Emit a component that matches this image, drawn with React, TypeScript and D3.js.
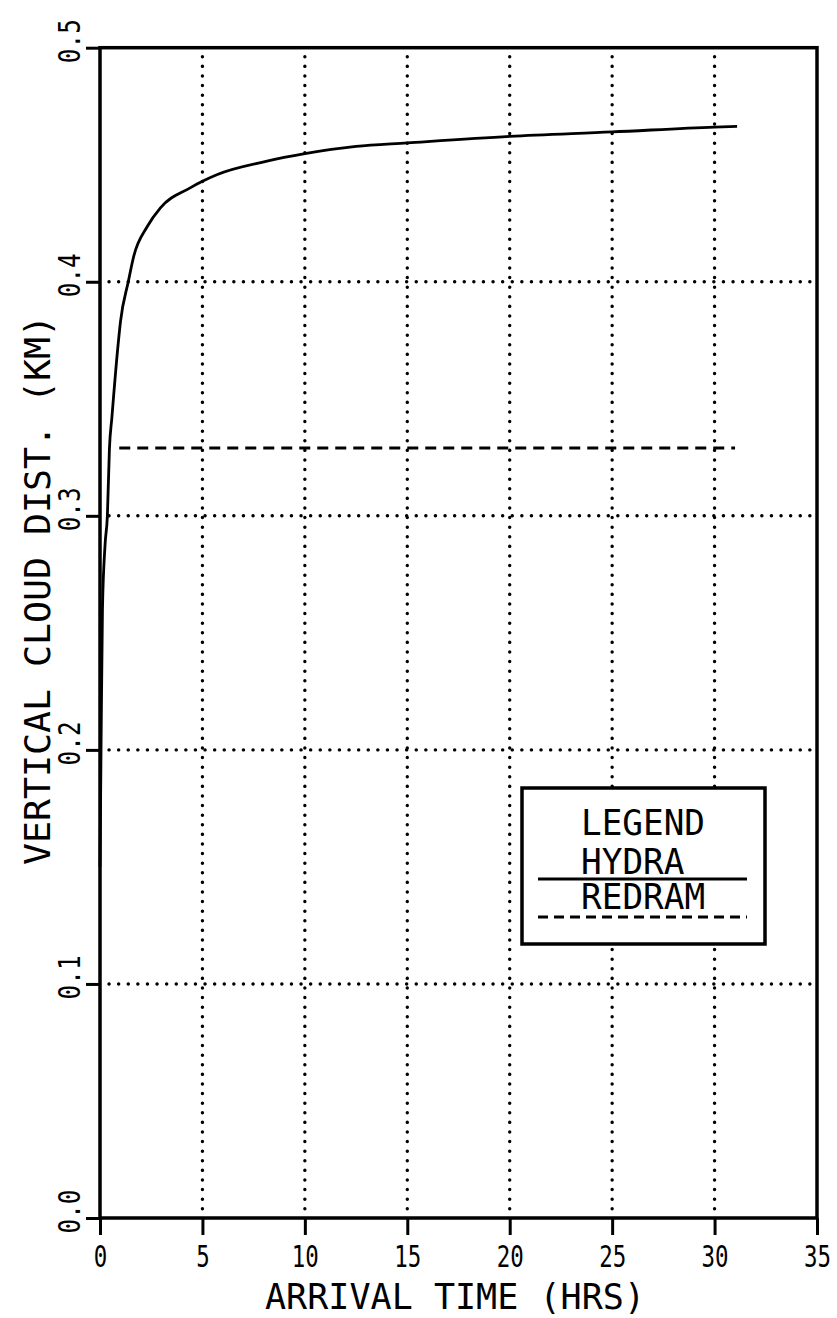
import React, { useEffect, useRef } from 'react';
import * as d3 from 'd3';

// HYDRA curve
const hydraTime = [0, 0.05, 0.12, 0.25, 0.36, 0.46, 0.58, 0.86, 1.0, 1.38, 1.65, 2.3, 2.95, 4.38, 5.0, 5.7, 8.1, 10, 12.5, 15, 20, 25, 30, 31.1];
const hydraDist = [0.15, 0.2, 0.26, 0.288, 0.3, 0.3286, 0.342, 0.371, 0.383, 0.4, 0.411, 0.4235, 0.4316, 0.44, 0.4429, 0.4457, 0.4514, 0.4547, 0.4578, 0.4593, 0.4621, 0.464, 0.4661, 0.4664];

// REDRAM is flat
const redramTime = [0.94, 31.0];
const redramDist = [0.329, 0.329];

const xTicks = [0, 5, 10, 15, 20, 25, 30, 35];
const yTicks = [0.0, 0.1, 0.2, 0.3, 0.4, 0.5];
const legendLabels = ['HYDRA', 'REDRAM'];

const FONT = '"DejaVu Sans Mono", monospace';

export default function App() {
  const ref = useRef<SVGSVGElement>(null);

  useEffect(() => {
    const svg = d3.select(ref.current);
    svg.selectAll('*').remove();

    const left = 100, right = 817, top = 47.7, bottom = 1218;

    const x = d3.scaleLinear().domain([0, 35]).range([left, right]);
    const y = d3.scaleLinear().domain([0, 0.5]).range([bottom, top]);

    // dotted grid
    const grid = svg.append('g')
      .attr('stroke', '#000')
      .attr('stroke-width', 3.4)
      .attr('stroke-linecap', 'round')
      .attr('stroke-dasharray', '0.1 9.5');
    grid.selectAll('line.h')
      .data(yTicks.filter(d => d > 0 && d < 0.5))
      .join('line')
      .attr('x1', left + 9).attr('x2', right)
      .attr('y1', d => y(d)).attr('y2', d => y(d));
    grid.selectAll('line.v')
      .data(xTicks.filter(d => d > 0 && d < 35))
      .join('line')
      .attr('class', 'v')
      .attr('x1', d => x(d)).attr('x2', d => x(d))
      .attr('y1', top + 9).attr('y2', bottom);

    // x axis
    const xAxis = d3.axisBottom(x).tickValues(xTicks).tickSize(17).tickFormat(d3.format('d'));
    const gx = svg.append('g').attr('transform', `translate(0,${bottom})`).call(xAxis);
    gx.select('.domain').remove();
    gx.selectAll('line').attr('stroke', '#000').attr('stroke-width', 3);
    gx.selectAll('text')
      .attr('y', 49)
      .attr('dy', 0)
      .attr('fill', '#000')
      .style('font-family', FONT)
      .style('font-size', '31px')
      .attr('textLength', (d: any) => String(d).length * 13.5)
      .attr('lengthAdjust', 'spacingAndGlyphs');

    // y axis, labels rotated
    const yAxis = d3.axisLeft(y).tickValues(yTicks).tickSize(14).tickFormat(d3.format('.1f'));
    const gy = svg.append('g').attr('transform', `translate(${left},0)`).call(yAxis);
    gy.select('.domain').remove();
    gy.selectAll('line').attr('stroke', '#000').attr('stroke-width', 3);
    gy.selectAll('text')
      .attr('x', 0).attr('dy', 0)
      .attr('transform', 'translate(-20,-7) rotate(-90)')
      .attr('text-anchor', 'middle')
      .attr('fill', '#000')
      .style('font-family', FONT)
      .style('font-size', '31px')
      .attr('textLength', 44)
      .attr('lengthAdjust', 'spacingAndGlyphs');

    // frame
    svg.append('rect')
      .attr('x', left).attr('y', top)
      .attr('width', right - left).attr('height', bottom - top)
      .attr('fill', 'none').attr('stroke', '#000').attr('stroke-width', 3.5);

    // curves
    const line = d3.line<[number, number]>()
      .x(d => x(d[0])).y(d => y(d[1]))
      .curve(d3.curveMonotoneX);

    svg.append('path')
      .datum(hydraTime.map((t, i) => [t, hydraDist[i]] as [number, number]))
      .attr('d', line)
      .attr('fill', 'none').attr('stroke', '#000').attr('stroke-width', 2.8);

    svg.append('path')
      .datum(redramTime.map((t, i) => [t, redramDist[i]] as [number, number]))
      .attr('d', d3.line<[number, number]>().x(d => x(d[0])).y(d => y(d[1])))
      .attr('fill', 'none').attr('stroke', '#000').attr('stroke-width', 3)
      .attr('stroke-dasharray', '11 7');

    // legend
    const lg = svg.append('g');
    lg.append('rect')
      .attr('x', 522).attr('y', 788).attr('width', 243).attr('height', 156)
      .attr('fill', '#fff').attr('stroke', '#000').attr('stroke-width', 3.5);
    lg.append('text')
      .attr('x', 581).attr('y', 835)
      .text('LEGEND')
      .style('font-family', FONT).style('font-size', '35px')
      .attr('textLength', 124).attr('lengthAdjust', 'spacingAndGlyphs');
    legendLabels.forEach((label, i) => {
      const by = 874 + i * 35;
      lg.append('text')
        .attr('x', 581).attr('y', by)
        .text(label)
        .style('font-family', FONT).style('font-size', '35px')
        .attr('textLength', label.length * 20.7).attr('lengthAdjust', 'spacingAndGlyphs');
      lg.append('line')
        .attr('x1', 538).attr('x2', 747)
        .attr('y1', by + 5 + i * 3).attr('y2', by + 5 + i * 3)
        .attr('stroke', '#000').attr('stroke-width', 3)
        .attr('stroke-dasharray', i === 0 ? null : '10 6');
    });

    // axis titles
    svg.append('text')
      .attr('x', 455).attr('y', 1309)
      .attr('text-anchor', 'middle')
      .text('ARRIVAL TIME (HRS)')
      .style('font-family', FONT).style('font-size', '36px')
      .attr('textLength', 380).attr('lengthAdjust', 'spacingAndGlyphs');

    svg.append('text')
      .attr('transform', 'translate(50,590) rotate(-90)')
      .attr('text-anchor', 'middle')
      .text('VERTICAL CLOUD DIST. (KM)')
      .style('font-family', FONT).style('font-size', '35px')
      .attr('textLength', 550).attr('lengthAdjust', 'spacingAndGlyphs');
  }, []);

  return (
    <svg
      ref={ref}
      width={837}
      height={1318}
      style={{ position: 'absolute', left: 0, top: 0, background: '#fff', display: 'block' }}
    />
  );
}
